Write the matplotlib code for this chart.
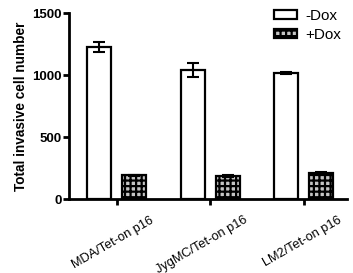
import numpy as np
import matplotlib.pyplot as plt

plt.rcParams['font.family'] = ['Liberation Sans', 'DejaVu Sans']
plt.rcParams['hatch.linewidth'] = 1.6

groups = ['MDA/Tet-on p16', 'JygMC/Tet-on p16', 'LM2/Tet-on p16']
minus_dox = [1226, 1040, 1020]
minus_err = [40, 55, 8]
plus_dox = [190, 185, 210]
plus_err = [6, 5, 5]

fig = plt.figure(figsize=(3.53, 2.73), dpi=100)
ax = fig.add_axes([0.195, 0.271, 0.788, 0.681])

x = np.arange(len(groups))
w = 0.257
off = 0.187

ax.bar(x - off, minus_dox, w, color='white', edgecolor='black', linewidth=1.6,
       yerr=minus_err, error_kw=dict(ecolor='black', elinewidth=1.5, capsize=4, capthick=1.5),
       label='-Dox', zorder=2)
ax.bar(x + off, plus_dox, w, color='#c4c4c4', edgecolor='black', linewidth=1.6, hatch='+++',
       yerr=plus_err, error_kw=dict(ecolor='black', elinewidth=1.5, capsize=4, capthick=1.5),
       label='+Dox', zorder=2)

ax.set_xlim(-0.51, 2.46)
ax.set_ylim(0, 1500)
ax.set_yticks([0, 500, 1000, 1500])
ax.set_yticklabels(['0', '500', '1000', '1500'], fontweight='bold', fontsize=9.5)
ax.set_xticks(x)
ax.set_xticklabels([])
# rotated group labels, right end sits right of the tick
for xi, g in zip(x, groups):
    ax.annotate(g, xy=(xi, 0), xycoords=('data', 'axes fraction'),
                xytext=(24, -11), textcoords='offset points',
                rotation=30, ha='right', va='top', rotation_mode='anchor', fontsize=9.2)
ax.set_ylabel('Total invasive cell number', fontweight='bold', fontsize=9.8, labelpad=3)

for s in ['top', 'right']:
    ax.spines[s].set_visible(False)
for s in ['left', 'bottom']:
    ax.spines[s].set_linewidth(2)
ax.tick_params(width=2, length=4, direction='out')
ax.tick_params(axis='y', pad=1)

ax.legend(loc='upper right', bbox_to_anchor=(1.03, 1.096), frameon=False, fontsize=11,
          handlelength=1.5, handleheight=0.5, labelspacing=0.3, handletextpad=0.6)

plt.savefig('out.png', dpi=100)
